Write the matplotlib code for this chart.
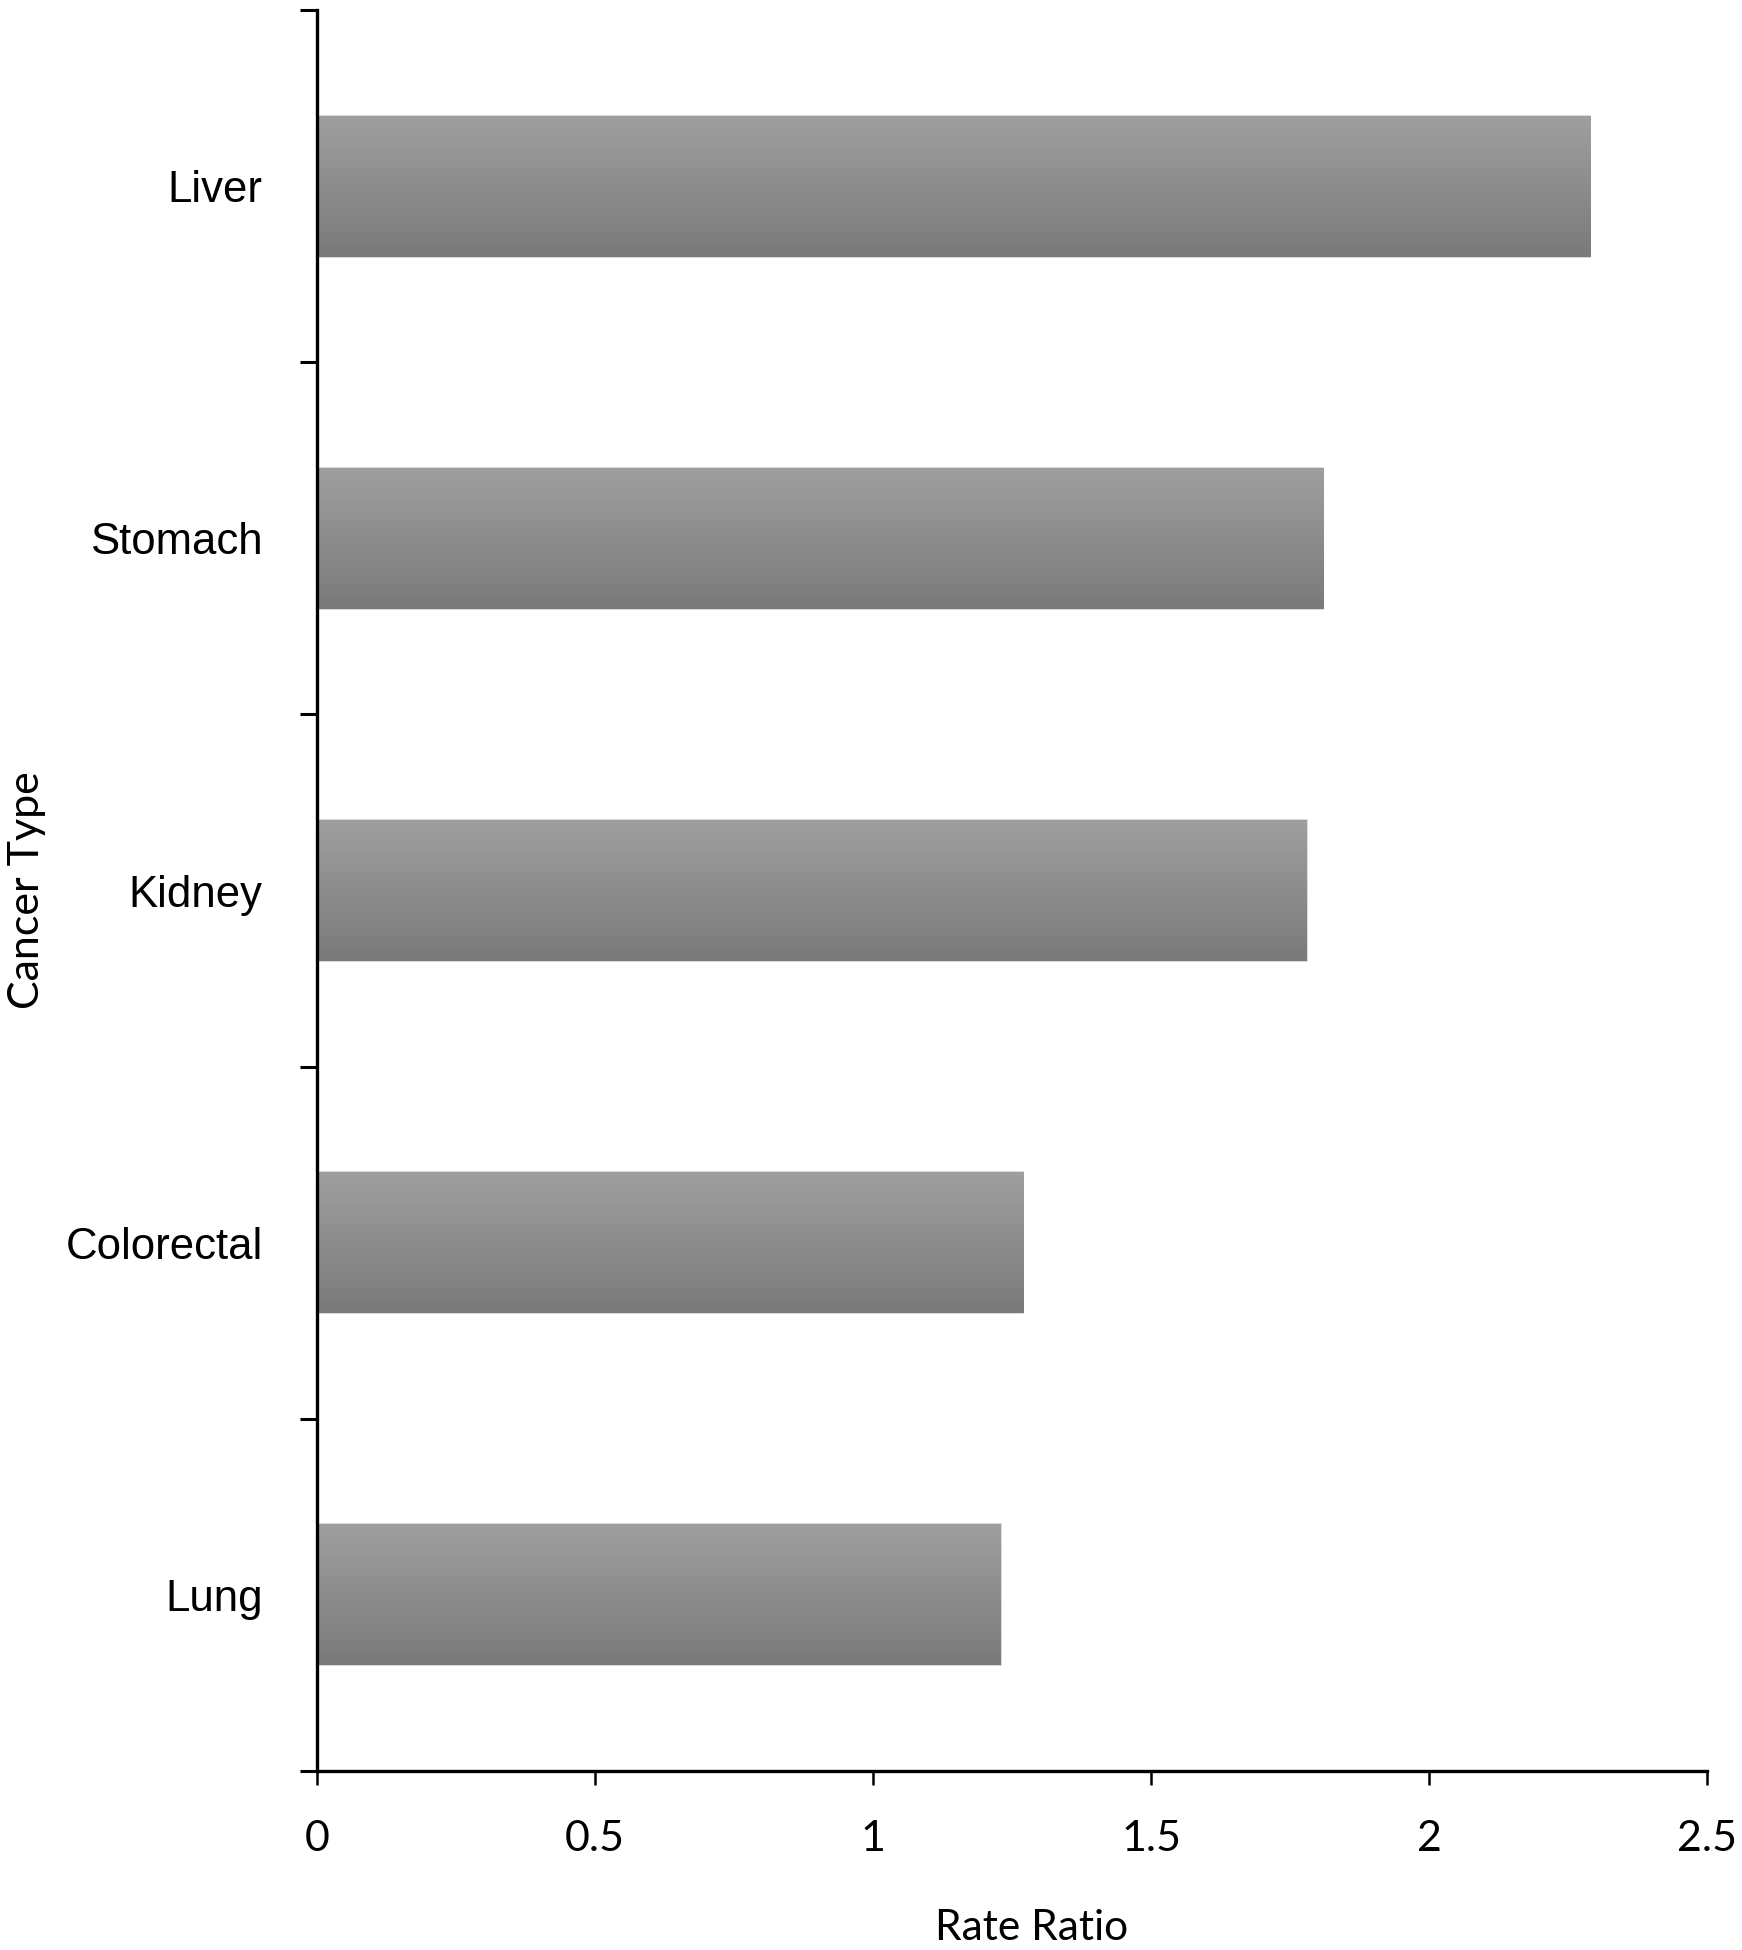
import matplotlib
matplotlib.use("Agg")
import matplotlib.pyplot as plt
import numpy as np

cancers = ["Lung", "Colorectal", "Kidney", "Stomach", "Liver"]
rate_ratio = [1.23, 1.27, 1.78, 1.81, 2.29]
x_ticks = [0, 0.5, 1, 1.5, 2, 2.5]
x_tick_labels = ["0", "0.5", "1", "1.5", "2", "2.5"]

fig = plt.figure(figsize=(17.42, 19.5), dpi=100)
ax = fig.add_axes([317/1742, 1 - 1771/1950, 1390/1742, 1761/1950])

y = np.arange(len(cancers))
bars = ax.barh(y, rate_ratio, height=0.4, color="#8c8c8c",
               edgecolor="#d4d4d4", linewidth=1.2, zorder=2)

# vertical grey gradient inside each bar (light top, dark bottom)
grad = np.linspace(0, 1, 256).reshape(-1, 1)
cmap = matplotlib.colors.LinearSegmentedColormap.from_list("g", ["#9f9f9f", "#7a7a7a"])
for b in bars:
    x0, y0 = b.get_x(), b.get_y()
    w, h = b.get_width(), b.get_height()
    im = ax.imshow(grad, cmap=cmap, aspect="auto", origin="upper",
                   extent=[x0, x0 + w, y0, y0 + h], zorder=3)
    im.set_clip_path(b)

ax.set_xlim(0, 2.5)
ax.set_ylim(-0.5, len(cancers) - 0.5)

ax.spines["top"].set_visible(False)
ax.spines["right"].set_visible(False)
for s in ["left", "bottom"]:
    ax.spines[s].set_linewidth(2.4)
    ax.spines[s].set_zorder(5)

ax.set_xticks(x_ticks)
ax.set_xticklabels(x_tick_labels, family="Lato", fontsize=31)
ax.tick_params(axis="x", direction="out", length=10, width=1.8, pad=25)

ax.set_yticks(np.arange(len(cancers) + 1) - 0.5)
ax.set_yticklabels([])
ax.tick_params(axis="y", which="major", direction="out", length=12, width=2.2)
ax.set_yticks(y, minor=True)
ax.set_yticklabels(cancers, minor=True, family="Liberation Sans", fontsize=31.5)
ax.tick_params(axis="y", which="minor", length=0, pad=39)

ax.set_xlabel("Rate Ratio", family="Lato", fontsize=30.5, va="baseline")
ax.xaxis.set_label_coords(0.5 + 20/1390, -169/1761)
ax.set_ylabel("Cancer Type", family="Lato", fontsize=31, va="center")
ax.yaxis.set_label_coords(-290/1390, 0.5)

fig.savefig("out.png", dpi=100)
